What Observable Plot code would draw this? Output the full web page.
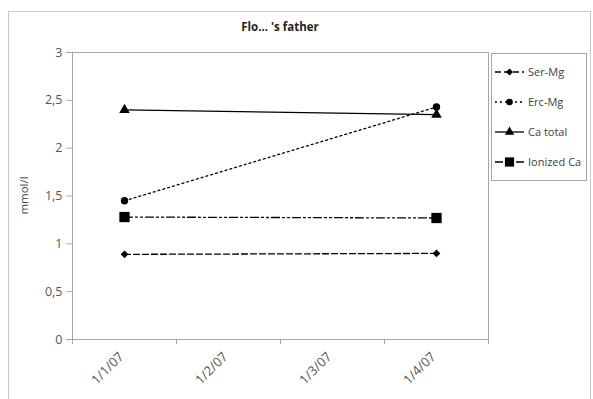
<!DOCTYPE html>
<html>
<head>
<meta charset="utf-8">
<script src="https://cdn.jsdelivr.net/npm/d3@7"></script>
<script src="https://cdn.jsdelivr.net/npm/@observablehq/plot@0.6"></script>
<style>
  html, body { margin: 0; padding: 0; background: #fff; }
  #wrap { position: relative; width: 593px; height: 399px; overflow: hidden; font-family: "Open Sans", sans-serif; }
  #title { position: absolute; left: 72px; width: 416px; top: 19px; text-align: center; font-size: 11.5px; font-weight: bold; color: #222; }
</style>
</head>
<body>
<div id="wrap">
  <div id="chart"></div>
  <div id="title">Flo... 's father</div>
</div>
<script>
const dates = ["1/1/07", "1/2/07", "1/3/07", "1/4/07"];
const seriesNames = ["Ser-Mg", "Erc-Mg", "Ca total", "Ionized Ca"];
const obsDates = ["1/1/07", "1/4/07"];
const serMg = [0.89, 0.90];
const ercMg = [1.45, 2.43];
const caTotal = [2.40, 2.35];
const ionizedCa = [1.28, 1.27];
const yTicks = [0, 0.5, 1, 1.5, 2, 2.5, 3];
const yLabel = "mmol/l";

const styles = {
  "Ser-Mg": {dash: "6,3", symbol: "diamond2", r: 3.5},
  "Erc-Mg": {dash: "2,3", symbol: "circle", r: 3.7},
  "Ca total": {dash: null, symbol: "triangle", r: 3.9},
  "Ionized Ca": {dash: "8,3,2,3,2,3", symbol: "square", r: 5.8}
};

const valuesBySeries = {"Ser-Mg": serMg, "Erc-Mg": ercMg, "Ca total": caTotal, "Ionized Ca": ionizedCa};
const rows = [];
for (const s of seriesNames) {
  valuesBySeries[s].forEach((v, i) => rows.push({series: s, xi: dates.indexOf(obsDates[i]), value: v}));
}

const boundaries = d3.range(-0.5, dates.length, 1);
const fmt = v => String(v).replace(".", ",");
const gray = "#a6a6a6";
const textGray = "#555";

const marks = [
  Plot.frame({stroke: gray}),
  Plot.axisY(yTicks, {tickSize: 6, tickFormat: fmt, stroke: gray, fill: textGray, fontSize: 12.5, label: null, tickPadding: 4}),
  Plot.axisX(boundaries, {tickSize: 5, tickFormat: () => "", stroke: gray, label: null}),
  Plot.axisX([0, 1, 2, 3], {tickSize: 0, tickFormat: i => dates[i], tickRotate: -45, fill: textGray, fontSize: 13, label: null, tickPadding: 15, dx: -3})
];
for (const s of seriesNames) {
  const st = styles[s];
  const data = rows.filter(d => d.series === s);
  marks.push(Plot.line(data, {x: "xi", y: "value", stroke: "#000", strokeWidth: 1.3, strokeDasharray: st.dash}));
  marks.push(Plot.dot(data, {x: "xi", y: "value", symbol: () => st.symbol, r: st.r, fill: "#000", stroke: "none"}));
}

const plot = Plot.plot({
  width: 593,
  height: 399,
  marginLeft: 72,
  marginRight: 105,
  marginTop: 52,
  marginBottom: 60,
  style: {fontFamily: "'Open Sans', sans-serif", fontSize: "11px", background: "transparent", overflow: "visible"},
  x: {domain: [-0.5, dates.length - 0.5], axis: null},
  y: {domain: [0, 3], axis: null},
  symbol: {type: "identity"},
  marks
});
document.getElementById("chart").appendChild(plot);

// outer chart border, y label and legend
const svg = d3.select(plot);
svg.insert("rect", ":first-child").attr("x", 8.5).attr("y", 11.5).attr("width", 582).attr("height", 420)
  .attr("fill", "none").attr("stroke", "#c8c8c8");
svg.append("text").attr("transform", "translate(24,195.5) rotate(-90)").attr("text-anchor", "middle")
  .attr("dy", "0.35em").attr("fill", "#444").attr("font-size", 11.5).text(yLabel);

const lg = svg.append("g").attr("text-anchor", "start");
lg.append("rect").attr("x", 491.5).attr("y", 53.5).attr("width", 95).attr("height", 127)
  .attr("fill", "#fff").attr("stroke", gray);
const symMap = {diamond2: d3.symbolDiamond2, circle: d3.symbolCircle, triangle: d3.symbolTriangle, square: d3.symbolSquare};
seriesNames.forEach((s, i) => {
  const st = styles[s];
  const y = 72 + i * 30;
  lg.append("line").attr("x1", 495).attr("x2", 524).attr("y1", y).attr("y2", y)
    .attr("stroke", "#000").attr("stroke-width", 1.3).attr("stroke-dasharray", st.dash);
  lg.append("path").attr("transform", `translate(509.5,${y})`)
    .attr("d", d3.symbol(symMap[st.symbol], Math.PI * st.r * st.r * 0.8)()).attr("fill", "#000");
  lg.append("text").attr("x", 528).attr("y", y).attr("dy", "0.35em").attr("font-size", 11)
    .attr("fill", "#404040").text(s);
});
</script>
</body>
</html>
